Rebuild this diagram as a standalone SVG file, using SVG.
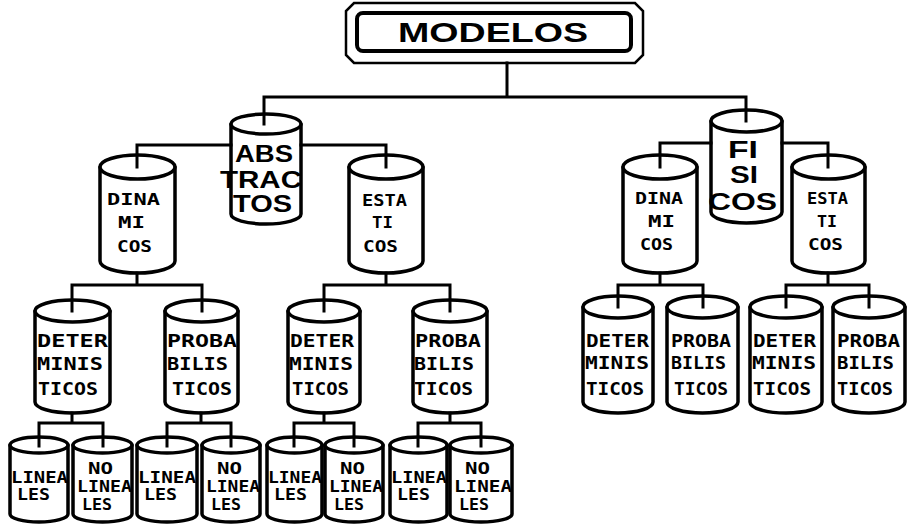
<svg xmlns="http://www.w3.org/2000/svg" width="909" height="526" viewBox="0 0 909 526">
<style>
.bg{fill:#fff}
.cyl{fill:#fff;stroke:#000;stroke-width:3.5;stroke-linejoin:round}
.conn{fill:none;stroke:#000;stroke-width:3;stroke-linecap:square}
.frame{fill:none;stroke:#000;stroke-width:2.5}
.inner{fill:#fff;stroke:#000;stroke-width:4}
text{fill:#000;font-weight:bold}
.tt{font-family:"Liberation Sans",Arial,sans-serif;font-size:28px}
.t1{font-family:"Liberation Sans",Arial,sans-serif;font-size:23px}
.t2{font-family:"DejaVu Sans Mono","Liberation Mono",monospace;font-size:16px}
.t3{font-family:"DejaVu Sans Mono","Liberation Mono",monospace;font-size:17px}
.t4{font-family:"DejaVu Sans Mono","Liberation Mono",monospace;font-size:15px}
</style>
<rect class="bg" x="0" y="0" width="909" height="526"/>

<g id="modelos">
<polygon class="frame" points="354,3 635,3 643,11 643,55 635,63 354,63 346,55 346,11"/>
<rect class="inner" x="357" y="13" width="274" height="38" rx="6"/>
<text class="tt" x="398" y="42" textLength="190" lengthAdjust="spacingAndGlyphs">MODELOS</text>
</g>

<g id="abstractos">
<path class="cyl" d="M231 124 V214 A35 10 0 0 0 301 214 V124 Z"/>
<ellipse class="cyl" cx="266" cy="124" rx="35" ry="10"/>
<text class="t1" x="235" y="162" textLength="58" lengthAdjust="spacingAndGlyphs">ABS</text>
<text class="t1" x="220" y="188" textLength="82" lengthAdjust="spacingAndGlyphs">TRAC</text>
<text class="t1" x="233" y="212" textLength="59" lengthAdjust="spacingAndGlyphs">TOS</text>
</g>

<g id="fisicos">
<path class="cyl" d="M711 121 V212 A35.5 11 0 0 0 782 212 V121 Z"/>
<ellipse class="cyl" cx="746.5" cy="121" rx="35.5" ry="11"/>
<text class="t1" x="728" y="158" textLength="30" lengthAdjust="spacingAndGlyphs">FI</text>
<text class="t1" x="730" y="183" textLength="28" lengthAdjust="spacingAndGlyphs">SI</text>
<text class="t1" x="708" y="210" textLength="69" lengthAdjust="spacingAndGlyphs">COS</text>
</g>

<g id="abs-dinamicos">
<path class="cyl" d="M100 167 V261 A37.5 12 0 0 0 175 261 V167 Z"/>
<ellipse class="cyl" cx="137.5" cy="167" rx="37.5" ry="12"/>
<text class="t2" x="107" y="205" textLength="53" lengthAdjust="spacingAndGlyphs">DINA</text>
<text class="t2" x="118" y="228" textLength="27" lengthAdjust="spacingAndGlyphs">MI</text>
<text class="t2" x="117" y="252" textLength="35" lengthAdjust="spacingAndGlyphs">COS</text>
</g>

<g id="abs-estaticos">
<path class="cyl" d="M349 167 V261 A37 12 0 0 0 423 261 V167 Z"/>
<ellipse class="cyl" cx="386" cy="167" rx="37" ry="12"/>
<text class="t2" x="362" y="206" textLength="45" lengthAdjust="spacingAndGlyphs">ESTA</text>
<text class="t2" x="372" y="228" textLength="21" lengthAdjust="spacingAndGlyphs">TI</text>
<text class="t2" x="363" y="252" textLength="35" lengthAdjust="spacingAndGlyphs">COS</text>
</g>

<g id="fis-dinamicos">
<path class="cyl" d="M623 167 V261 A37 12 0 0 0 697 261 V167 Z"/>
<ellipse class="cyl" cx="660" cy="167" rx="37" ry="12"/>
<text class="t2" x="635" y="204" textLength="48" lengthAdjust="spacingAndGlyphs">DINA</text>
<text class="t2" x="648" y="227" textLength="27" lengthAdjust="spacingAndGlyphs">MI</text>
<text class="t2" x="640" y="250" textLength="33" lengthAdjust="spacingAndGlyphs">COS</text>
</g>

<g id="fis-estaticos">
<path class="cyl" d="M792 167 V261 A36.5 12 0 0 0 865 261 V167 Z"/>
<ellipse class="cyl" cx="828.5" cy="167" rx="36.5" ry="12"/>
<text class="t2" x="807" y="204" textLength="41" lengthAdjust="spacingAndGlyphs">ESTA</text>
<text class="t2" x="817" y="227" textLength="20" lengthAdjust="spacingAndGlyphs">TI</text>
<text class="t2" x="808" y="250" textLength="35" lengthAdjust="spacingAndGlyphs">COS</text>
</g>

<g id="abs-din-deterministicos">
<path class="cyl" d="M35 311 V402 A37.5 11 0 0 0 110 402 V311 Z"/>
<ellipse class="cyl" cx="72.5" cy="311" rx="37.5" ry="11"/>
<text class="t3" x="37" y="347" textLength="71" lengthAdjust="spacingAndGlyphs">DETER</text>
<text class="t3" x="37" y="370" textLength="66" lengthAdjust="spacingAndGlyphs">MINIS</text>
<text class="t3" x="38" y="395" textLength="60" lengthAdjust="spacingAndGlyphs">TICOS</text>
</g>

<g id="abs-din-probabilisticos">
<path class="cyl" d="M165 311 V402 A36.5 11 0 0 0 238 402 V311 Z"/>
<ellipse class="cyl" cx="201.5" cy="311" rx="36.5" ry="11"/>
<text class="t3" x="167" y="347" textLength="70" lengthAdjust="spacingAndGlyphs">PROBA</text>
<text class="t3" x="167" y="370" textLength="61" lengthAdjust="spacingAndGlyphs">BILIS</text>
<text class="t3" x="172" y="395" textLength="60" lengthAdjust="spacingAndGlyphs">TICOS</text>
</g>

<g id="abs-est-deterministicos">
<path class="cyl" d="M288 311 V402 A36 11 0 0 0 360 402 V311 Z"/>
<ellipse class="cyl" cx="324" cy="311" rx="36" ry="11"/>
<text class="t3" x="290" y="347" textLength="64" lengthAdjust="spacingAndGlyphs">DETER</text>
<text class="t3" x="289" y="370" textLength="64" lengthAdjust="spacingAndGlyphs">MINIS</text>
<text class="t3" x="292" y="395" textLength="57" lengthAdjust="spacingAndGlyphs">TICOS</text>
</g>

<g id="abs-est-probabilisticos">
<path class="cyl" d="M413 311 V402 A37 11 0 0 0 487 402 V311 Z"/>
<ellipse class="cyl" cx="450" cy="311" rx="37" ry="11"/>
<text class="t3" x="415" y="347" textLength="66" lengthAdjust="spacingAndGlyphs">PROBA</text>
<text class="t3" x="414" y="370" textLength="60" lengthAdjust="spacingAndGlyphs">BILIS</text>
<text class="t3" x="414" y="395" textLength="59" lengthAdjust="spacingAndGlyphs">TICOS</text>
</g>

<g id="fis-din-deterministicos">
<path class="cyl" d="M583 307 V402 A35 11 0 0 0 653 402 V307 Z"/>
<ellipse class="cyl" cx="618" cy="307" rx="35" ry="11"/>
<text class="t3" x="586" y="347" textLength="63" lengthAdjust="spacingAndGlyphs">DETER</text>
<text class="t3" x="585" y="369" textLength="64" lengthAdjust="spacingAndGlyphs">MINIS</text>
<text class="t3" x="586" y="395" textLength="58" lengthAdjust="spacingAndGlyphs">TICOS</text>
</g>

<g id="fis-din-probabilisticos">
<path class="cyl" d="M667 307 V402 A35.5 11 0 0 0 738 402 V307 Z"/>
<ellipse class="cyl" cx="702.5" cy="307" rx="35.5" ry="11"/>
<text class="t3" x="671" y="347" textLength="60" lengthAdjust="spacingAndGlyphs">PROBA</text>
<text class="t3" x="671" y="369" textLength="55" lengthAdjust="spacingAndGlyphs">BILIS</text>
<text class="t3" x="674" y="395" textLength="54" lengthAdjust="spacingAndGlyphs">TICOS</text>
</g>

<g id="fis-est-deterministicos">
<path class="cyl" d="M750 307 V402 A36 11 0 0 0 822 402 V307 Z"/>
<ellipse class="cyl" cx="786" cy="307" rx="36" ry="11"/>
<text class="t3" x="753" y="347" textLength="63" lengthAdjust="spacingAndGlyphs">DETER</text>
<text class="t3" x="752" y="369" textLength="64" lengthAdjust="spacingAndGlyphs">MINIS</text>
<text class="t3" x="753" y="395" textLength="58" lengthAdjust="spacingAndGlyphs">TICOS</text>
</g>

<g id="fis-est-probabilisticos">
<path class="cyl" d="M833 307 V402 A36 11 0 0 0 905 402 V307 Z"/>
<ellipse class="cyl" cx="869" cy="307" rx="36" ry="11"/>
<text class="t3" x="837" y="347" textLength="63" lengthAdjust="spacingAndGlyphs">PROBA</text>
<text class="t3" x="837" y="369" textLength="57" lengthAdjust="spacingAndGlyphs">BILIS</text>
<text class="t3" x="837" y="395" textLength="56" lengthAdjust="spacingAndGlyphs">TICOS</text>
</g>

<g id="lineales-1">
<path class="cyl" d="M10 445 V514 A29 8 0 0 0 68 514 V445 Z"/>
<ellipse class="cyl" cx="39" cy="445" rx="29" ry="8"/>
<text class="t4" x="11" y="483" textLength="57" lengthAdjust="spacingAndGlyphs">LINEA</text>
<text class="t4" x="17" y="500" textLength="33" lengthAdjust="spacingAndGlyphs">LES</text>
</g>
<g id="no-lineales-1">
<path class="cyl" d="M73 445 V514 A29.5 8 0 0 0 132 514 V445 Z"/>
<ellipse class="cyl" cx="102.5" cy="445" rx="29.5" ry="8"/>
<text class="t4" x="88" y="474" textLength="25" lengthAdjust="spacingAndGlyphs">NO</text>
<text class="t4" x="77" y="492" textLength="55" lengthAdjust="spacingAndGlyphs">LINEA</text>
<text class="t4" x="82" y="510" textLength="30" lengthAdjust="spacingAndGlyphs">LES</text>
</g>
<g id="lineales-2">
<path class="cyl" d="M137 445 V514 A30 8 0 0 0 197 514 V445 Z"/>
<ellipse class="cyl" cx="167" cy="445" rx="30" ry="8"/>
<text class="t4" x="138" y="483" textLength="58" lengthAdjust="spacingAndGlyphs">LINEA</text>
<text class="t4" x="144" y="500" textLength="33" lengthAdjust="spacingAndGlyphs">LES</text>
</g>
<g id="no-lineales-2">
<path class="cyl" d="M202 445 V514 A29 8 0 0 0 260 514 V445 Z"/>
<ellipse class="cyl" cx="231" cy="445" rx="29" ry="8"/>
<text class="t4" x="217" y="474" textLength="25" lengthAdjust="spacingAndGlyphs">NO</text>
<text class="t4" x="206" y="492" textLength="54" lengthAdjust="spacingAndGlyphs">LINEA</text>
<text class="t4" x="211" y="510" textLength="30" lengthAdjust="spacingAndGlyphs">LES</text>
</g>
<g id="lineales-3">
<path class="cyl" d="M267 445 V514 A27.5 8 0 0 0 322 514 V445 Z"/>
<ellipse class="cyl" cx="294.5" cy="445" rx="27.5" ry="8"/>
<text class="t4" x="268" y="483" textLength="54" lengthAdjust="spacingAndGlyphs">LINEA</text>
<text class="t4" x="274" y="500" textLength="33" lengthAdjust="spacingAndGlyphs">LES</text>
</g>
<g id="no-lineales-3">
<path class="cyl" d="M325 445 V514 A29 8 0 0 0 383 514 V445 Z"/>
<ellipse class="cyl" cx="354" cy="445" rx="29" ry="8"/>
<text class="t4" x="340" y="474" textLength="25" lengthAdjust="spacingAndGlyphs">NO</text>
<text class="t4" x="329" y="492" textLength="54" lengthAdjust="spacingAndGlyphs">LINEA</text>
<text class="t4" x="334" y="510" textLength="30" lengthAdjust="spacingAndGlyphs">LES</text>
</g>
<g id="lineales-4">
<path class="cyl" d="M390 445 V514 A28.5 8 0 0 0 447 514 V445 Z"/>
<ellipse class="cyl" cx="418.5" cy="445" rx="28.5" ry="8"/>
<text class="t4" x="391" y="483" textLength="56" lengthAdjust="spacingAndGlyphs">LINEA</text>
<text class="t4" x="397" y="500" textLength="33" lengthAdjust="spacingAndGlyphs">LES</text>
</g>
<g id="no-lineales-4">
<path class="cyl" d="M450 445 V514 A31 8 0 0 0 512 514 V445 Z"/>
<ellipse class="cyl" cx="481" cy="445" rx="31" ry="8"/>
<text class="t4" x="465" y="474" textLength="25" lengthAdjust="spacingAndGlyphs">NO</text>
<text class="t4" x="454" y="492" textLength="58" lengthAdjust="spacingAndGlyphs">LINEA</text>
<text class="t4" x="459" y="510" textLength="30" lengthAdjust="spacingAndGlyphs">LES</text>
</g>

<g id="connectors" class="conn">
<path d="M507 63 V97 M264 97 H746 M264 97 V124 M746 97 V121"/>
<path d="M137 145 H231 M301 145 H386 M137 145 V167 M386 145 V167"/>
<path d="M660 143 H711 M782 143 H828 M660 143 V167 M828 143 V167"/>
<path d="M137 273 V285 M72 285 H202 M72 285 V311 M202 285 V311"/>
<path d="M386 273 V285 M324 285 H450 M324 285 V311 M450 285 V311"/>
<path d="M660 273 V285 M618 285 H703 M618 285 V307 M703 285 V307"/>
<path d="M828 273 V285 M786 285 H869 M786 285 V307 M869 285 V307"/>
<path d="M72 413 V423 M39 423 H103 M39 423 V446 M103 423 V446"/>
<path d="M201 413 V423 M167 423 H231 M167 423 V446 M231 423 V446"/>
<path d="M324 413 V423 M294 423 H354 M294 423 V446 M354 423 V446"/>
<path d="M450 413 V423 M418 423 H481 M418 423 V446 M481 423 V446"/>
</g>
</svg>
